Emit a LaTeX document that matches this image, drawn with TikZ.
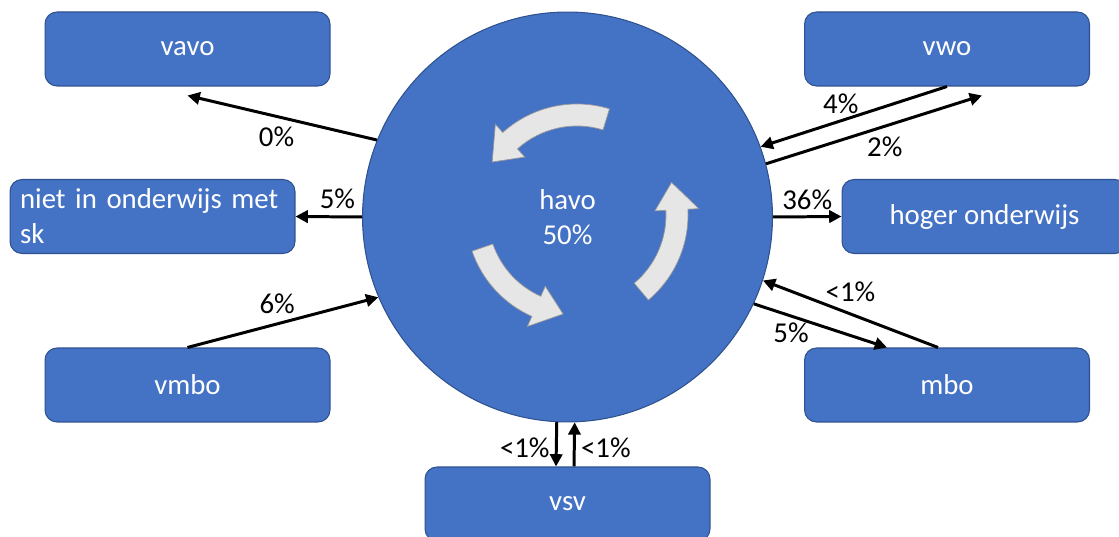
\documentclass[tikz,border=0pt]{standalone}
\usepackage{fontspec}
\setmainfont{Carlito}
\usetikzlibrary{arrows.meta}

\definecolor{boxblue}{HTML}{4472C4}
\definecolor{boxline}{HTML}{2F528F}
\definecolor{cycfill}{HTML}{E7E6E6}

\tikzset{
  box/.style={rectangle,rounded corners=0.24cm,draw=boxline,fill=boxblue,
    line width=0.6pt,minimum width=5.7cm,minimum height=1.48cm,text=white},
  cyc/.style={fill=cycfill,draw=gray!80,line width=0.4pt}
}

\begin{document}
\begin{tikzpicture}[x=0.02cm,y=0.02cm,font=\fontsize{16.4pt}{20pt}\selectfont]
	\useasboundingbox (0,0) rectangle (1119,537);
	\node[circle,draw=boxline,fill=boxblue,line width=0.6pt,minimum size=8.2cm,
	      inner sep=0pt,text=white,align=center] (havo) at (567.5,320) {havo\\50\%};
	% kringloop pijlen
	\begin{scope}[shift={(577,322)}]
		\draw[cyc] (73:111) arc[start angle=73,end angle=132,radius=111] -- (132:122)
			-- (148:100) -- (132:78) -- (132:89) arc[start angle=132,end angle=73,radius=89] -- cycle;
		\draw[cyc] (-50:111) arc[start angle=-50,end angle=3,radius=111] -- (3:122)
			-- (19:100) -- (3:78) -- (3:89) arc[start angle=3,end angle=-50,radius=89] -- cycle;
		\draw[cyc] (199:111) arc[start angle=199,end angle=246,radius=111] -- (246:122)
			-- (262:100) -- (246:78) -- (246:89) arc[start angle=246,end angle=199,radius=89] -- cycle;
	\end{scope}
	\begin{scope}[every node/.style={box}]
		\node (vavo) at (187.5,488) {vavo};
		\node (vwo) at (947,488) {vwo};
		\node[text width=5.3cm,align=left] (niet) at (152.5,320.5) {niet in onderwijs met\\sk};
		\node (hoger) at (984.5,320.5) {hoger onderwijs};
		\node (vmbo) at (187.5,152) {vmbo};
		\node (mbo) at (947,152) {mbo};
		\node (vsv) at (567.5,33) {vsv};
	\end{scope}
	\begin{scope}[>={Triangle[length=7pt,width=7pt]},
	              every node/.style={text=black,inner sep=2pt},
	              every edge/.style={draw=black,line width=1.7pt}]
		\path [->] (havo.158) edge node[pos=0.53,below=3pt] (lvavo) {0\%} ([yshift=-0.18cm]vavo.south);
		\path [->] (havo.west) edge node[pos=0.37,above=2pt] (lniet) {5\%} (niet.east);
		\path [->] (vmbo.north) edge node[pos=0.47,above=3pt] (lvmbo) {6\%} (havo.203);
		\path [->] (vwo.south) edge node[pos=0.57,above=1pt] (lvwoin) {4\%} (havo.20);
		\path [->] (havo.15) edge node[pos=0.55,below=3pt] (lvwouit) {2\%} ([xshift=0.7cm,yshift=-0.18cm]vwo.south);
		\path [->] (havo.east) edge node[pos=0.5,above=1pt] (lhoger) {36\%} (hoger.west);
		\path [->] ([xshift=-0.18cm]mbo.north) edge node[pos=0.5,above=4pt] (lmboin) {<1\%} (havo.-18);
		\path [->] (havo.-25) edge node[pos=0.28,below=1pt] (lmbouit) {5\%} ([xshift=-1.2cm]mbo.north);
		\path [->] (havo.267) edge node[pos=0.57,left=1pt] (lvsvuit) {<1\%} ([xshift=-0.23cm]vsv.north);
		\path [->] ([xshift=0.13cm]vsv.north) edge node[pos=0.43,right=1pt] (lvsvin) {<1\%} (havo.272);
	\end{scope}
\end{tikzpicture}
\end{document}
